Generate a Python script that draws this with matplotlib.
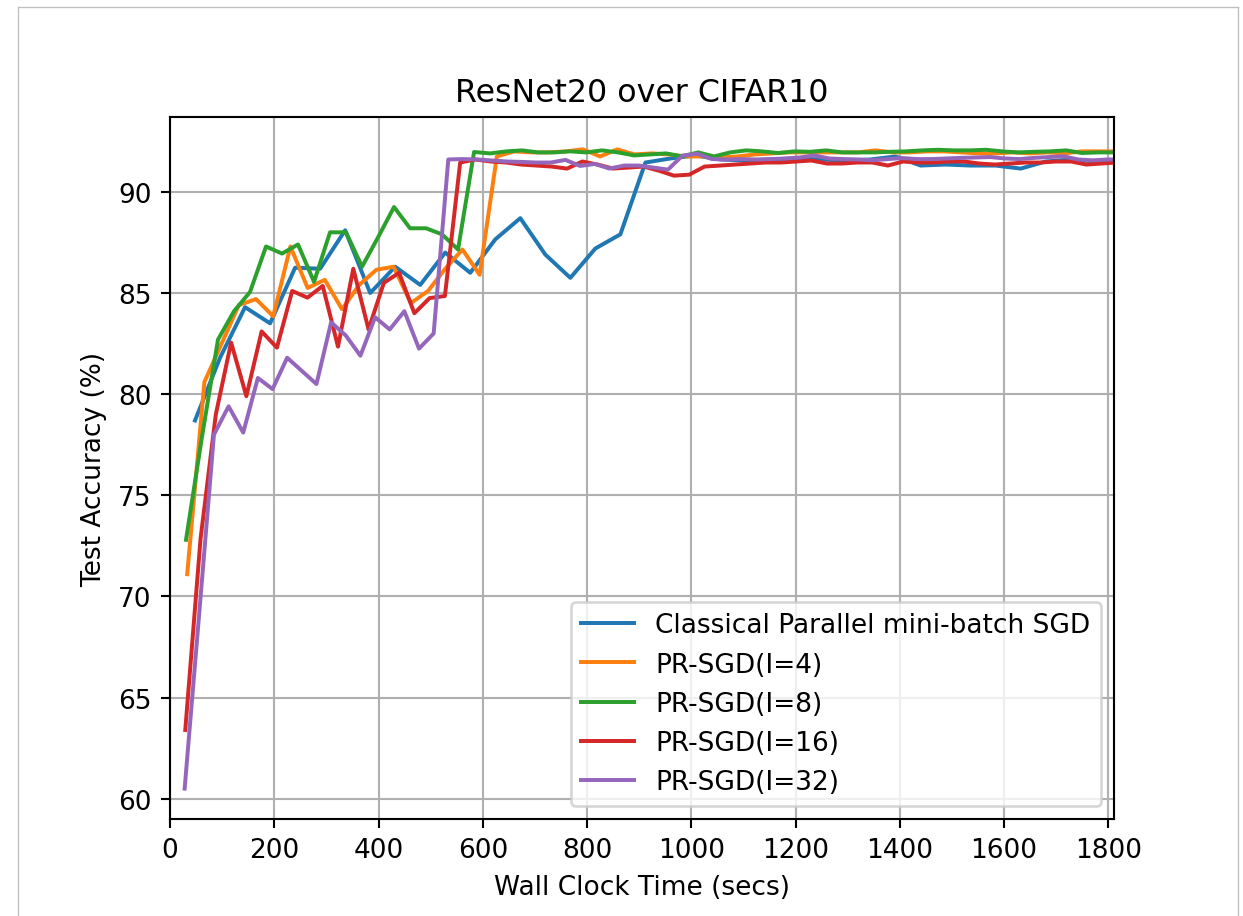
"""
ResNet20 over CIFAR10: test accuracy vs. wall clock time
for classical parallel mini-batch SGD and PR-SGD with different I.
"""

import numpy as np
import matplotlib
matplotlib.use("Agg")
import matplotlib.pyplot as plt
from matplotlib.lines import Line2D

# ─── data ────────────────────────────────────────────────────────────────────
labels = [
    "Classical Parallel mini-batch SGD",
    "PR-SGD(I=4)",
    "PR-SGD(I=8)",
    "PR-SGD(I=16)",
    "PR-SGD(I=32)",
]

# seconds per evaluation step of each method
sec_per_epoch = [48.0, 33.0, 30.7, 29.3, 28.1]

acc_classical = [
    78.7, 81.8, 84.3, 83.5, 86.25, 86.2, 88.1, 85.0, 86.3, 85.4,
    87.0, 86.0, 87.65, 88.7, 86.9, 85.75, 87.2, 87.9, 91.45, 91.65,
    91.8, 91.6, 91.55, 91.6, 91.65, 91.6, 91.55, 91.6, 91.75, 91.3,
    91.35, 91.3, 91.3, 91.15, 91.5, 91.6, 91.5, 91.5,
]

acc_i4 = [
    71.1, 80.6, 82.5, 84.4, 84.7, 83.85, 87.3, 85.25, 85.65, 84.2,
    85.4, 86.15, 86.3, 84.5, 85.1, 86.2, 87.15, 85.9, 91.75, 92.0,
    91.95, 91.95, 92.0, 92.1, 91.75, 92.1, 91.85, 91.9, 91.85, 91.75,
    91.75, 91.7, 91.75, 91.85, 91.9, 91.95, 91.95, 91.95, 91.95, 91.95,
    92.05, 91.95, 91.95, 92.0, 92.0, 91.95, 91.9, 91.9, 91.95, 91.9,
    91.95, 91.9, 92.0, 92.0, 92.0,
]

acc_i8 = [
    72.8, 77.9, 82.7, 84.1, 85.05, 87.3, 86.95, 87.4, 85.55, 88.0,
    88.0, 86.3, 87.75, 89.25, 88.2, 88.2, 87.9, 87.15, 91.97, 91.9,
    92.0, 92.05, 91.95, 91.95, 92.0, 91.95, 92.05, 91.95, 91.8, 91.85,
    91.9, 91.75, 91.95, 91.75, 91.95, 92.05, 92.0, 91.92, 92.0, 91.98,
    92.05, 91.95, 91.95, 91.95, 91.98, 92.0, 92.05, 92.08, 92.05, 92.05,
    92.08, 92.0, 91.95, 91.98, 92.0, 92.05, 91.92, 91.95, 91.95,
]

acc_i16 = [
    63.4, 72.85, 79.0, 82.55, 79.9, 83.1, 82.3, 85.1, 84.77, 85.35,
    82.35, 86.2, 83.2, 85.5, 86.0, 84.0, 84.75, 84.85, 91.45, 91.6,
    91.5, 91.45, 91.35, 91.3, 91.25, 91.15, 91.5, 91.35, 91.15, 91.2,
    91.25, 91.05, 90.8, 90.85, 91.25, 91.3, 91.35, 91.4, 91.45, 91.45,
    91.5, 91.55, 91.4, 91.4, 91.45, 91.45, 91.3, 91.5, 91.45, 91.45,
    91.5, 91.5, 91.4, 91.35, 91.4, 91.45, 91.45, 91.5, 91.5, 91.35,
    91.4, 91.45,
]

acc_i32 = [
    60.5, 69.2, 78.0, 79.4, 78.1, 80.8, 80.25, 81.8, 81.15, 80.5,
    83.55, 82.9, 81.9, 83.8, 83.2, 84.1, 82.25, 83.0, 91.6, 91.62,
    91.6, 91.55, 91.5, 91.48, 91.45, 91.45, 91.58, 91.28, 91.38, 91.15,
    91.3, 91.3, 91.2, 91.1, 91.8, 91.88, 91.62, 91.6, 91.62, 91.6,
    91.62, 91.65, 91.7, 91.8, 91.65, 91.62, 91.6, 91.56, 91.62, 91.67,
    91.62, 91.62, 91.65, 91.68, 91.7, 91.72, 91.65, 91.62, 91.68, 91.72,
    91.76, 91.6, 91.56, 91.6, 91.6,
]

series = [acc_classical, acc_i4, acc_i8, acc_i16, acc_i32]
colors = ["#1f77b4", "#ff7f0e", "#2ca02c", "#d62728", "#9467bd"]
# ────────────────────────────────────────────────────────────────────────────

W, H, DPI = 1243, 917, 190


def main():
    fig = plt.figure(figsize=(W / DPI, H / DPI), dpi=DPI)
    # axes placed to match the original page crop
    ax = fig.add_axes([170 / W, (H - 820) / H, 944 / W, 702 / H])

    for acc, spe, color, label in zip(series, sec_per_epoch, colors, labels):
        epochs = np.arange(1, len(acc) + 1)
        ax.plot(epochs * spe, acc, color=color, lw=1.5, label=label)

    ax.set_xlim(0, 1811)
    ax.set_ylim(59.0, 93.7)
    ax.set_xticks(np.arange(0, 1801, 200))
    ax.set_yticks(np.arange(60, 91, 5))
    ax.set_xlabel("Wall Clock Time (secs)")
    ax.set_ylabel("Test Accuracy (%)")
    ax.set_title("ResNet20 over CIFAR10")
    ax.grid(True)
    ax.legend(loc="lower right")

    # thin grey frame of the original page (bottom edge is cropped away)
    frame = dict(color="#c0c0c0", lw=0.5, transform=fig.transFigure)
    top = 1 - 7.5 / H
    fig.add_artist(Line2D([17.5 / W, 1237.5 / W], [top, top], **frame))
    fig.add_artist(Line2D([17.5 / W, 17.5 / W], [0, top], **frame))
    fig.add_artist(Line2D([1237.5 / W, 1237.5 / W], [0, top], **frame))

    fig.savefig("out.png", dpi=DPI)
    plt.close(fig)


if __name__ == "__main__":
    main()
